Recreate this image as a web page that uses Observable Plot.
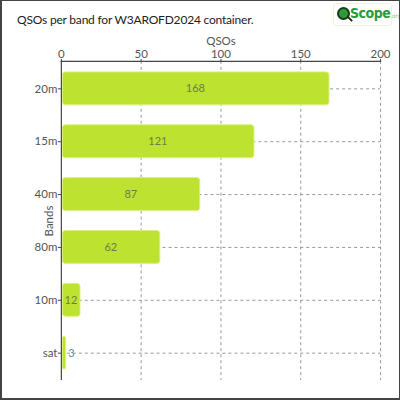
<!DOCTYPE html>
<html>
<head>
<meta charset="utf-8">
<script src="https://cdn.jsdelivr.net/npm/d3@7"></script>
<script src="https://cdn.jsdelivr.net/npm/@observablehq/plot@0.6"></script>
<style>
  html, body { margin: 0; padding: 0; background: #fff; }
  #frame { position: relative; width: 400px; height: 400px; box-sizing: border-box; border: 1px solid #444; border-left-width: 2px; border-bottom-width: 2px; overflow: hidden; font-family: "Lato", sans-serif; }
  #head { position: relative; height: 28px; }
  #title { position: absolute; left: 15px; top: 11px; font-size: 12px; color: #222; font-weight: 400; letter-spacing: -0.2px; }
  #logo { position: absolute; left: 331px; top: 2px; width: 57px; height: 21px; border: 1px solid #eef3d8; border-radius: 3px; background: #fff; }
  #logo .glass { position: absolute; left: 3px; top: 3px; width: 9px; height: 9px; border-radius: 50%; background: #2e9a3a; border: 2px solid #1a3a1a; }
  #logo .handle { position: absolute; left: 13px; top: 14px; width: 6px; height: 2px; background: #1a2a1a; transform: rotate(45deg); }
  #logo .txt { position: absolute; left: 16px; top: 1px; font-size: 14px; font-weight: 700; color: #2a9a3a; font-family: "DejaVu Sans Condensed", "Liberation Sans Narrow", sans-serif; letter-spacing: -0.5px; }
  #logo .org { font-size: 6px; font-weight: 400; color: #8ac070; letter-spacing: 0; }
  #chart { position: absolute; left: 0; top: 28px; }
</style>
</head>
<body>
<div id="frame">
  <div id="head">
    <div id="title">QSOs per band for W3AROFD2024 container.</div>
    <div id="logo"><div class="glass"></div><div class="handle"></div><div class="txt">Scope<span class="org">.org</span></div></div>
  </div>
  <div id="chart"></div>
</div>
<script>
const bands = ["20m", "15m", "40m", "80m", "10m", "sat"];
const qsos = [168, 121, 87, 62, 12, 3];
const xTicks = [0, 50, 100, 150, 200];

const data = bands.map((b, i) => ({band: b, qsos: qsos[i]}));
const inside = data.filter(d => d.qsos >= 10);
const outside = data.filter(d => d.qsos < 10);

const chart = Plot.plot({
  width: 398,
  height: 370,
  marginTop: 32,
  marginLeft: 59,
  marginRight: 19,
  marginBottom: 18,
  style: {fontFamily: "Lato, sans-serif", fontSize: "11px", color: "#555", background: "transparent"},
  x: {domain: [0, 200], axis: null},
  y: {domain: bands, axis: null, paddingInner: 0.38, paddingOuter: 0.19},
  marks: [
    Plot.gridX(xTicks.slice(1), {stroke: "#999", strokeOpacity: 1, strokeDasharray: "3,3"}),
    Plot.gridY(bands, {stroke: "#999", strokeOpacity: 1, strokeDasharray: "3,3"}),
    Plot.barX(data, {y: "band", x: "qsos", fill: "#bde22f", stroke: "#d9f27a", strokeWidth: 1, rx: 3, insetLeft: 1.5}),
    Plot.axisX({ticks: xTicks, anchor: "top", tickSize: 3, tickPadding: 0, stroke: "#444", fill: "#555", fontSize: 11.5, label: "QSOs", labelArrow: "none", labelAnchor: "center", labelOffset: 25}),
    Plot.axisY({anchor: "left", tickSize: 3, tickPadding: 1, stroke: "#444", fill: "#555", fontSize: 11.5, label: "Bands", labelArrow: "none", labelAnchor: "center", labelOffset: 17}),
    Plot.frame({anchor: "top", stroke: "#444", strokeWidth: 1.2}),
    Plot.ruleX([0], {stroke: "#444", strokeWidth: 1.2}),
    Plot.text(inside, {y: "band", x: d => d.qsos / 2, text: d => String(d.qsos), fill: "#6b7f45", fontSize: 11}),
    Plot.text(outside, {y: "band", x: "qsos", text: d => String(d.qsos), fill: "#5f8f8f", fontSize: 11, textAnchor: "start", dx: 2})
  ]
});
document.getElementById("chart").appendChild(chart);
</script>
</body>
</html>
